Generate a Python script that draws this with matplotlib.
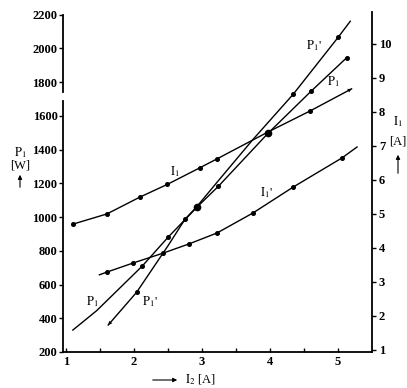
import matplotlib
matplotlib.use("Agg")
import matplotlib.pyplot as plt

plt.rcParams['font.family'] = ['Liberation Serif', 'DejaVu Serif']
plt.rcParams['mathtext.fontset'] = 'stix'

# values, x = I2 [A]
p1_x = [1.10, 1.45, 2.12, 2.50, 2.94, 3.24, 3.97, 4.60, 5.13]
p1_y = [330, 445, 709, 880, 1064, 1182, 1496, 1744, 1945]
p1d_x = [1.62, 2.04, 2.50, 2.75, 2.92, 3.25, 3.75, 4.34, 5.00, 5.18]
p1d_y = [360, 555, 830, 987, 1060, 1220, 1460, 1727, 2064, 2160]
i1_x = [1.10, 1.60, 2.09, 2.49, 2.97, 3.22, 3.97, 4.59, 5.20]
i1_y = [4.70, 5.00, 5.50, 5.87, 6.36, 6.62, 7.41, 8.03, 8.68]
i1d_x = [1.49, 1.60, 1.99, 2.43, 2.81, 3.22, 3.75, 4.34, 5.06, 5.28]
i1d_y = [3.21, 3.29, 3.56, 3.85, 4.12, 4.44, 5.03, 5.79, 6.65, 6.97]

x_ticks = [1, 2, 3, 4, 5]
p_ticks = [200, 400, 600, 800, 1000, 1200, 1400, 1600, 1800, 2000, 2200]
i_ticks = [1, 2, 3, 4, 5, 6, 7, 8, 9, 10]

W, H = 407, 388
fig = plt.figure(figsize=(W / 100, H / 100), dpi=100)
ax = fig.add_axes([63 / W, 1 - 352 / H, 309 / W, 340 / H])
ax2 = ax.twinx()

ax.set_xlim(0.955, 5.5)
ax.set_ylim(200, 2215)
ax2.set_ylim(0.94, 10.94)

line_kw = dict(color='black', lw=1.0, marker='o', ms=2.6)
arrow_kw = dict(arrowstyle='-|>', color='black', lw=0, mutation_scale=7,
                shrinkA=0, shrinkB=0)

# power curves on the left axis
ax.plot(p1_x, p1_y, markevery=[2, 3, 5, 7, 8], **line_kw)
ax.plot(p1d_x, p1d_y, markevery=[1, 3, 7, 8], **line_kw)
ax.plot([p1_x[6]], [p1_y[6]], 'ko', ms=4.5)
ax.plot([p1d_x[4]], [p1d_y[4]], 'ko', ms=4.5)
ax.annotate('', xy=(p1d_x[0], p1d_y[0]), xytext=(p1d_x[1], p1d_y[1]),
            arrowprops=arrow_kw)

# current curves on the right axis
ax2.plot(i1_x, i1_y, markevery=[0, 1, 2, 3, 4, 5, 7], **line_kw)
ax2.plot(i1d_x, i1d_y, markevery=[1, 2, 3, 4, 5, 6, 7, 8], **line_kw)
ax2.annotate('', xy=(i1_x[-1], i1_y[-1]), xytext=(i1_x[-2], i1_y[-2]),
             arrowprops=arrow_kw)

# curve labels
p1 = r'$\mathrm{P_1}$'
p1d = r"$\mathrm{P_1}$'"
i1 = r'$\mathrm{I_1}$'
i1d = r"$\mathrm{I_1}$'"
ax.text(1.38, 500, p1, fontsize=9, ha='center', va='center')
ax.text(2.24, 500, p1d, fontsize=9, ha='center', va='center')
ax.text(4.65, 2015, p1d, fontsize=9, ha='center', va='center')
ax.text(4.93, 1800, p1, fontsize=9, ha='center', va='center')
ax2.text(2.6, 6.25, i1, fontsize=9, ha='center', va='center')
ax2.text(3.95, 5.62, i1d, fontsize=9, ha='center', va='center')

# axes styling
for s in ['top', 'left', 'right']:
    ax.spines[s].set_visible(False)
for s in ['top', 'left', 'bottom']:
    ax2.spines[s].set_visible(False)
ax2.spines['right'].set_linewidth(1.3)
ax.spines['bottom'].set_linewidth(1.3)

# left spine drawn in two parts, broken between 1600 and 1800
yt = ax.get_yaxis_transform()
ax.plot([0, 0], [200, 1690], color='black', lw=1.3, transform=yt, clip_on=False)
ax.plot([0, 0], [1740, 2200], color='black', lw=1.3, transform=yt, clip_on=False)

ax.set_xticks(x_ticks)
ax.set_xticks([1.5, 2.5, 3.5, 4.5], minor=True)
ax.set_yticks(p_ticks)
ax2.set_yticks(i_ticks)
ax.tick_params(axis='x', which='both', direction='in', length=3, width=1, pad=3,
               labelsize=9)
ax.tick_params(axis='y', direction='out', length=3, width=1, pad=1, labelsize=9)
ax2.tick_params(axis='y', direction='out', length=3, width=1, pad=2, labelsize=9)
for lab in ax.get_xticklabels() + ax.get_yticklabels() + ax2.get_yticklabels():
    lab.set_fontweight('bold')

# axis titles
fp = dict(xycoords='figure pixels', textcoords='figure pixels', annotation_clip=False)
ax_arrow = dict(arrowstyle='-|>', color='black', lw=0.8, mutation_scale=6)
fig.text(20 / W, 1 - 153 / H, p1, fontsize=9, ha='center', va='center')
fig.text(20 / W, 1 - 165 / H, '[W]', fontsize=9, ha='center', va='center')
ax.annotate('', xy=(20, H - 172), xytext=(20, H - 190), arrowprops=ax_arrow, **fp)
fig.text(398 / W, 1 - 122 / H, i1, fontsize=9, ha='center', va='center')
fig.text(398 / W, 1 - 142 / H, '[A]', fontsize=9, ha='center', va='center')
ax.annotate('', xy=(398, H - 152), xytext=(398, H - 176), arrowprops=ax_arrow, **fp)
ax.annotate('', xy=(180, H - 380), xytext=(150, H - 380), arrowprops=ax_arrow, **fp)
fig.text(185 / W, 1 - 380 / H, r'$\mathrm{I_2}$ [A]', fontsize=9, ha='left', va='center')

fig.savefig('out.png', dpi=100)
